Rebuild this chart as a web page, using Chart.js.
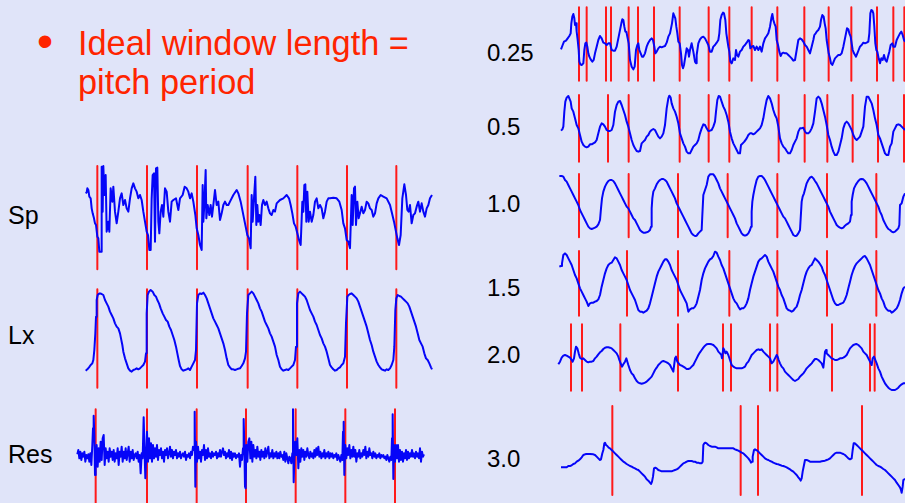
<!DOCTYPE html>
<html>
<head>
<meta charset="utf-8">
<script src="https://cdn.jsdelivr.net/npm/chart.js@4.4.1/dist/chart.umd.min.js"></script>
<style>
  html, body { margin: 0; padding: 0; }
  body { width: 905px; height: 503px; background: #e0e4f9; position: relative; overflow: hidden;
         font-family: "Liberation Sans", Arial, sans-serif; }
  .title { position: absolute; left: 78px; top: 24px; font-size: 34.3px; line-height: 39px; color: #ff2400; white-space: nowrap; }
  .bullet { position: absolute; left: 37px; top: 18px; font-size: 46px; line-height: 46px; color: #ff2400; }
  .lab { position: absolute; color: #000; white-space: nowrap; }
  .lab.left { left: 8px; font-size: 25px; line-height: 25px; }
  .lab.right { left: 487px; font-size: 24px; line-height: 24px; }
  .trace { position: absolute; }
</style>
</head>
<body>
<div class="bullet">•</div>
<div class="title">Ideal window length =<br>pitch period</div>

<script>
// waveform readings: [sample, deflection] -- deflection measured downward from the top of each strip
const spTrace = [[47,115],[50,112],[52,100],[55,105],[58,125],[62,130],[65,160],[68,175],[72,190],[75,205],[78,210],[82,245],[85,250],[88,290],[93,290],[95,35],[98,170],[100,33],[103,120],[107,60],[110,230],[115,200],[118,230],[122,100],[127,140],[130,95],[135,170],[140,205],[145,170],[150,130],[155,115],[160,150],[165,135],[170,160],[175,170],[180,130],[185,100],[190,85],[195,100],[200,110],[205,130],[210,120],[215,135],[220,170],[225,200],[230,230],[234,240],[238,285],[242,285],[245,130],[248,60],[252,55],[255,260],[258,40],[262,38],[265,200],[268,235],[272,170],[276,150],[280,185],[285,100],[290,110],[295,170],[300,200],[305,140],[310,135],[318,130],[325,165],[330,130],[338,120],[344,95],[350,100],[355,110],[360,130],[365,115],[370,140],[376,180],[380,220],[385,240],[390,270],[395,285],[398,90],[400,200],[403,150],[407,45],[409,190],[413,150],[418,180],[422,150],[426,185],[430,150],[435,105],[440,150],[445,140],[450,195],[455,175],[460,150],[465,140],[470,150],[475,150],[480,140],[490,120],[500,105],[505,115],[512,140],[518,170],[522,190],[527,215],[532,240],[537,250],[542,280],[545,120],[548,200],[552,130],[556,65],[559,210],[562,150],[565,200],[568,180],[572,210],[576,150],[580,135],[585,150],[590,140],[595,160],[600,175],[605,180],[610,165],[615,170],[620,145],[630,135],[640,130],[650,120],[657,130],[662,150],[667,175],[672,205],[677,215],[682,235],[687,255],[692,270],[697,140],[700,170],[703,90],[706,88],[709,200],[712,110],[716,200],[720,170],[725,200],[730,180],[735,140],[740,130],[745,160],[750,150],[755,160],[760,190],[765,170],[770,140],[775,130],[780,130],[790,128],[800,130],[808,140],[815,165],[820,205],[825,220],[830,255],[835,260],[840,280],[845,120],[848,210],[852,100],[855,95],[858,210],[862,140],[866,190],[870,175],[875,155],[880,175],[885,165],[890,140],[895,145],[900,160],[905,165],[910,185],[915,175],[920,145],[925,130],[932,120],[940,125],[950,130],[960,150],[966,175],[972,200],[976,220],[982,250],[987,270],[992,240],[997,130],[1003,88],[1008,120],[1012,165],[1016,170],[1020,150],[1025,205],[1030,180],[1035,175],[1040,155],[1045,140],[1050,170],[1055,145],[1060,170],[1065,185],[1070,160],[1075,150],[1080,130],[1086,120]];
const spMarks = [82, 231, 381, 533, 682, 831, 979];

const lxTrace = [[47,272],[52,268],[57,262],[62,255],[67,250],[70,240],[73,210],[76,160],[78,110],[80,60],[83,45],[86,42],[90,40],[95,42],[100,45],[105,60],[110,70],[115,80],[120,95],[125,105],[130,115],[135,130],[140,140],[145,145],[150,160],[153,175],[157,195],[160,215],[165,235],[170,250],[175,265],[180,272],[185,275],[190,270],[195,268],[200,265],[205,268],[210,265],[215,260],[220,255],[225,245],[228,220],[230,100],[233,45],[237,35],[242,30],[248,35],[253,45],[258,50],[262,60],[267,70],[272,85],[278,100],[283,110],[288,120],[293,125],[298,140],[303,150],[308,165],[313,180],[318,200],[322,220],[326,240],[330,258],[335,268],[340,272],[345,270],[350,268],[355,265],[360,270],[365,260],[370,250],[375,240],[378,210],[381,70],[385,45],[390,40],[395,42],[400,38],[405,45],[410,55],[415,70],[420,85],[425,100],[430,115],[435,125],[440,135],[445,145],[450,160],[455,175],[460,190],[465,210],[470,235],[475,255],[480,262],[485,268],[490,268],[495,270],[500,268],[505,266],[510,265],[515,258],[520,250],[525,235],[528,215],[531,100],[535,45],[540,40],[545,35],[550,40],[555,50],[560,60],[565,70],[570,85],[575,95],[580,110],[585,125],[590,135],[595,145],[600,160],[605,170],[610,185],[615,200],[620,225],[625,240],[630,260],[635,268],[640,272],[645,270],[650,268],[655,270],[660,265],[665,260],[670,255],[675,240],[678,200],[681,70],[685,40],[690,35],[695,40],[700,45],[705,50],[710,60],[715,75],[720,90],[725,100],[730,110],[735,125],[740,135],[745,150],[750,165],[755,175],[760,190],[765,200],[770,215],[775,235],[780,255],[785,262],[790,268],[795,272],[800,270],[805,265],[810,262],[815,255],[820,250],[825,230],[828,130],[832,50],[836,45],[840,42],[845,40],[850,45],[855,50],[860,55],[865,65],[870,80],[875,95],[880,110],[885,125],[890,140],[895,160],[900,180],[905,195],[910,215],[915,230],[920,245],[925,255],[930,262],[935,268],[940,270],[945,272],[950,268],[955,270],[960,265],[965,255],[970,240],[973,200],[976,90],[979,55],[983,45],[988,48],[993,50],[998,55],[1003,60],[1008,65],[1013,70],[1018,80],[1023,95],[1028,110],[1033,125],[1038,140],[1043,160],[1048,180],[1053,190],[1058,200],[1063,220],[1068,235],[1073,240],[1078,250],[1083,262],[1086,268]];
const lxMarks = [82, 231, 381, 533, 682, 831, 979];

const resTrace = [[22,178],[25,165],[28,190],[31,170],[34,195],[37,175],[40,185],[43,170],[46,200],[49,180],[52,190],[55,178],[58,200],[61,175],[64,210],[67,150],[69,100],[71,62],[73,120],[75,240],[77,200],[80,150],[83,215],[86,160],[89,200],[92,140],[95,195],[98,130],[101,120],[104,210],[107,160],[110,190],[113,170],[116,200],[119,160],[122,185],[125,170],[128,195],[131,165],[134,200],[137,175],[140,190],[143,160],[146,210],[149,170],[152,185],[155,155],[158,200],[161,170],[164,190],[167,160],[170,195],[173,175],[176,155],[179,200],[182,170],[185,190],[188,165],[191,195],[194,180],[197,175],[200,190],[203,170],[206,200],[209,180],[212,235],[215,175],[218,190],[221,67],[224,180],[226,250],[228,200],[231,110],[234,200],[237,130],[240,190],[243,145],[246,200],[249,150],[252,190],[255,160],[258,185],[261,150],[264,195],[267,165],[270,180],[273,160],[276,190],[279,170],[282,200],[285,165],[288,180],[291,160],[294,190],[297,175],[300,155],[303,185],[306,165],[309,190],[312,170],[315,180],[318,165],[321,190],[324,175],[327,185],[330,170],[333,190],[336,180],[339,175],[342,185],[345,170],[348,195],[351,180],[354,185],[357,175],[360,190],[363,170],[366,180],[369,155],[372,165],[374,50],[376,275],[378,140],[381,200],[384,155],[387,190],[390,170],[393,200],[396,165],[399,180],[402,150],[405,195],[408,165],[411,190],[414,160],[417,185],[420,175],[423,190],[426,170],[429,185],[432,175],[435,180],[438,170],[441,190],[444,175],[447,185],[450,165],[453,185],[456,170],[459,160],[462,180],[465,170],[468,190],[471,175],[474,185],[477,165],[480,190],[483,170],[486,195],[489,175],[492,185],[495,175],[498,190],[501,180],[504,185],[507,175],[510,215],[513,180],[516,195],[519,160],[521,72],[523,150],[525,275],[527,280],[529,150],[532,200],[535,140],[538,130],[541,190],[544,140],[547,200],[550,150],[553,185],[556,165],[559,190],[562,155],[565,185],[568,170],[571,195],[574,165],[577,185],[580,170],[583,190],[586,160],[589,185],[592,170],[595,155],[598,190],[601,175],[604,185],[607,165],[610,190],[613,175],[616,185],[619,170],[622,190],[625,175],[628,190],[631,170],[634,185],[637,180],[640,195],[643,170],[646,200],[649,175],[652,190],[655,205],[658,185],[661,190],[664,205],[667,175],[669,43],[671,262],[673,195],[676,140],[679,180],[682,130],[685,220],[688,165],[691,200],[694,160],[697,185],[700,165],[703,195],[706,170],[709,185],[712,160],[715,180],[718,190],[721,170],[724,185],[727,175],[730,190],[733,165],[736,185],[739,160],[742,180],[745,155],[748,185],[751,170],[754,190],[757,175],[760,185],[763,165],[766,190],[769,175],[772,185],[775,170],[778,190],[781,175],[784,185],[787,175],[790,190],[793,180],[796,185],[799,175],[802,195],[805,180],[808,190],[811,200],[814,180],[817,195],[819,110],[821,80],[823,240],[826,150],[829,190],[832,160],[835,180],[838,150],[841,190],[844,165],[847,185],[850,155],[853,185],[856,165],[859,200],[862,175],[865,185],[868,165],[871,190],[874,175],[877,185],[880,165],[883,180],[886,155],[889,190],[892,170],[895,185],[898,160],[901,180],[904,175],[907,190],[910,170],[913,185],[916,175],[919,190],[922,180],[925,185],[928,175],[931,190],[934,180],[937,185],[940,180],[943,190],[946,185],[949,195],[952,180],[955,190],[958,200],[961,185],[964,195],[966,130],[968,58],[970,252],[972,150],[975,200],[978,150],[981,190],[984,150],[987,200],[990,165],[993,195],[996,170],[999,200],[1002,175],[1005,190],[1008,165],[1011,195],[1014,170],[1017,190],[1020,175],[1023,185],[1026,165],[1029,185],[1032,175],[1035,190],[1038,170],[1041,185],[1044,175],[1047,190],[1050,160],[1053,200],[1056,170],[1059,185],[1062,178]];
const resMarks = [77, 231, 380, 528, 677, 826, 975];

const w025Trace = [[33,148],[38,135],[42,125],[48,122],[53,115],[58,108],[62,100],[64,70],[67,50],[70,42],[73,55],[75,75],[78,70],[80,95],[83,120],[86,150],[88,185],[91,193],[95,195],[100,190],[103,150],[106,130],[109,128],[112,140],[115,160],[118,170],[122,178],[127,185],[131,180],[135,160],[140,140],[145,120],[150,108],[155,115],[160,128],[165,130],[170,135],[175,130],[180,130],[185,150],[190,152],[195,152],[200,140],[205,115],[208,100],[211,85],[214,70],[217,58],[220,60],[223,80],[226,95],[229,95],[233,115],[236,130],[240,180],[245,200],[250,208],[254,200],[258,150],[262,135],[265,130],[268,150],[272,160],[276,170],[280,170],[285,160],[290,140],[295,128],[300,120],[305,115],[309,120],[313,140],[316,160],[320,155],[325,145],[330,140],[335,142],[340,140],[345,138],[350,128],[355,110],[360,100],[363,85],[366,70],[370,40],[373,48],[376,55],[379,80],[382,100],[385,125],[389,130],[393,160],[396,195],[399,205],[402,195],[406,170],[410,145],[414,150],[417,170],[420,150],[425,130],[430,155],[435,185],[438,190],[440,165],[445,130],[450,118],[455,112],[460,110],[465,115],[470,125],[475,135],[480,155],[485,155],[490,140],[495,135],[500,128],[505,120],[508,100],[511,60],[515,45],[519,38],[522,40],[526,60],[529,100],[532,120],[535,140],[538,155],[541,185],[545,190],[550,175],[555,180],[558,150],[561,165],[565,170],[570,155],[575,150],[580,140],[585,135],[590,128],[595,120],[598,122],[601,145],[605,140],[610,138],[615,150],[620,140],[625,150],[630,140],[635,155],[640,130],[645,115],[650,108],[655,100],[660,80],[664,55],[667,42],[670,60],[673,70],[677,80],[680,120],[684,135],[688,155],[692,168],[696,160],[700,158],[705,160],[710,160],[715,165],[720,170],[725,175],[730,182],[735,180],[740,150],[745,120],[750,115],[755,118],[760,125],[765,135],[770,140],[775,150],[780,160],[785,140],[790,120],[793,105],[797,100],[800,95],[805,90],[810,80],[813,60],[817,45],[821,50],[824,70],[827,85],[830,120],[833,140],[836,160],[840,175],[843,190],[847,195],[851,185],[855,175],[860,170],[865,165],[870,165],[875,160],[880,140],[885,115],[888,100],[891,85],[895,88],[898,100],[902,110],[905,130],[908,150],[912,160],[915,165],[918,170],[922,160],[926,150],[930,140],[935,135],[940,128],[945,130],[950,128],[955,125],[958,100],[961,40],[964,30],[967,32],[970,40],[973,80],[976,130],[979,150],[982,155],[986,175],[990,190],[994,175],[998,180],[1002,165],[1006,180],[1010,185],[1014,170],[1018,155],[1022,135],[1027,130],[1030,140],[1035,140],[1040,120],[1045,110],[1050,100],[1054,95],[1058,105],[1062,120],[1065,125]];
const w025Marks = [87, 110, 168, 183, 236, 264, 312, 389, 476, 538, 605, 682, 763, 836, 904, 981, 1030, 1063];

const w05Trace = [[33,137],[37,133],[40,125],[43,80],[46,50],[50,38],[55,33],[58,40],[62,50],[65,70],[70,80],[75,100],[80,120],[85,130],[90,150],[95,170],[100,180],[105,185],[110,187],[115,185],[120,178],[125,178],[130,175],[135,172],[140,165],[145,145],[150,125],[155,115],[160,118],[165,125],[170,135],[175,138],[180,138],[185,135],[190,120],[195,80],[200,60],[205,50],[210,48],[215,60],[220,75],[225,90],[230,110],[235,125],[240,145],[245,165],[250,180],[255,190],[260,198],[265,200],[270,198],[275,175],[280,170],[285,165],[290,155],[295,150],[300,140],[305,135],[310,132],[315,135],[320,145],[325,155],[330,160],[335,155],[340,145],[345,120],[350,70],[355,40],[358,32],[362,38],[365,55],[370,70],[375,80],[380,95],[385,115],[390,145],[395,160],[400,175],[405,185],[410,200],[415,205],[420,205],[425,195],[430,185],[435,180],[440,175],[445,165],[450,145],[455,130],[460,118],[465,120],[470,130],[475,138],[480,137],[485,135],[490,125],[495,110],[498,80],[502,45],[506,33],[510,35],[515,50],[520,65],[525,75],[530,90],[535,110],[540,140],[545,160],[550,175],[555,185],[560,195],[565,205],[570,205],[573,180],[578,175],[583,170],[590,160],[595,150],[600,145],[605,145],[610,148],[615,145],[620,140],[625,135],[630,130],[635,120],[640,100],[645,70],[650,45],[655,33],[660,40],[665,55],[670,75],[675,90],[680,100],[685,125],[690,160],[695,175],[700,185],[705,190],[710,198],[715,205],[720,205],[725,195],[730,180],[735,170],[740,160],[745,140],[750,130],[755,130],[760,128],[765,140],[770,145],[775,145],[780,140],[785,130],[790,115],[795,80],[800,40],[805,35],[810,40],[815,55],[820,75],[825,95],[830,120],[835,150],[840,165],[845,185],[850,200],[855,210],[860,210],[865,200],[870,180],[875,160],[880,130],[885,115],[890,110],[895,115],[900,125],[905,135],[910,150],[915,160],[920,165],[925,160],[930,155],[935,140],[940,125],[945,65],[950,35],[955,35],[960,45],[965,55],[970,75],[975,100],[980,120],[985,150],[990,160],[995,175],[1000,190],[1005,205],[1010,210],[1015,210],[1020,185],[1025,175],[1030,140],[1035,130],[1040,120],[1045,118],[1050,120],[1055,125],[1060,130],[1065,135]];
const w05Marks = [87, 174, 236, 389, 476, 538, 686, 764, 832, 908, 984, 1062];

const w10Trace = [[28,33],[35,33],[40,35],[45,45],[50,50],[55,60],[60,70],[65,80],[70,90],[75,100],[80,110],[85,120],[90,135],[95,145],[100,155],[105,165],[110,175],[115,185],[120,190],[125,192],[130,190],[135,188],[140,185],[145,178],[150,165],[153,130],[156,100],[160,80],[165,65],[170,55],[175,48],[180,45],[185,45],[190,48],[195,55],[200,65],[205,75],[210,85],[215,95],[220,105],[225,115],[230,125],[235,130],[240,140],[245,150],[250,160],[255,165],[260,175],[265,185],[270,195],[275,200],[280,203],[285,203],[290,202],[295,200],[300,195],[303,185],[305,130],[307,100],[310,80],[315,70],[320,58],[325,50],[330,45],[335,42],[340,42],[345,45],[350,50],[355,60],[360,70],[365,80],[370,90],[375,100],[380,115],[385,125],[390,135],[395,145],[400,155],[405,165],[410,175],[415,185],[420,195],[425,205],[430,210],[435,213],[440,212],[445,205],[450,200],[455,195],[457,150],[460,90],[465,75],[470,60],[475,35],[480,28],[485,28],[490,28],[495,35],[500,45],[505,55],[510,70],[515,80],[520,90],[525,100],[530,110],[535,120],[540,130],[545,140],[550,150],[555,160],[560,175],[565,185],[570,195],[575,205],[580,210],[585,212],[590,210],[595,205],[600,195],[603,185],[605,140],[607,110],[610,90],[615,65],[620,45],[625,35],[630,33],[635,33],[640,38],[645,45],[650,55],[655,65],[660,75],[665,85],[670,95],[675,105],[680,115],[685,125],[690,135],[695,145],[700,155],[705,160],[710,170],[715,180],[720,190],[725,200],[730,210],[735,213],[740,212],[745,205],[750,195],[752,160],[755,110],[758,95],[762,85],[766,70],[770,55],[775,45],[780,38],[785,35],[790,40],[795,48],[800,55],[805,65],[810,75],[815,85],[820,95],[825,105],[830,115],[835,125],[840,140],[845,150],[850,160],[855,170],[860,180],[865,185],[870,188],[875,190],[880,188],[885,182],[890,178],[895,175],[900,170],[903,150],[905,110],[908,90],[912,70],[918,58],[925,48],[930,43],[935,42],[940,43],[945,48],[950,55],[955,65],[960,75],[965,85],[970,95],[975,105],[980,115],[985,125],[990,140],[995,150],[1000,165],[1005,175],[1010,185],[1015,192],[1020,195],[1025,200],[1030,202],[1035,200],[1040,195],[1045,190],[1048,180],[1050,120],[1055,115],[1060,95],[1065,85]];
const w10Marks = [87, 236, 384, 533, 682, 831, 979];

const w15Trace = [[28,80],[33,78],[36,70],[40,45],[45,40],[50,45],[55,55],[60,65],[65,75],[70,90],[75,105],[80,115],[85,130],[90,145],[95,155],[100,165],[105,175],[110,185],[115,198],[120,190],[125,188],[130,188],[135,185],[140,183],[145,178],[150,165],[155,140],[160,120],[165,100],[170,85],[175,75],[180,70],[185,68],[190,60],[195,52],[200,55],[205,65],[210,75],[215,90],[220,100],[225,110],[230,120],[235,135],[240,150],[245,160],[250,170],[255,180],[260,195],[265,210],[270,215],[275,215],[280,218],[285,215],[290,212],[295,205],[300,190],[305,170],[310,150],[315,130],[320,110],[325,95],[330,85],[335,75],[340,65],[345,58],[350,58],[355,65],[360,75],[365,90],[370,100],[375,110],[380,120],[385,135],[390,150],[395,160],[400,170],[405,180],[410,190],[415,215],[420,208],[425,205],[430,205],[435,200],[440,190],[445,170],[450,150],[455,120],[460,100],[465,85],[470,75],[475,65],[480,58],[485,55],[490,48],[495,35],[500,38],[505,50],[510,60],[515,75],[520,85],[525,100],[530,115],[535,130],[540,145],[545,160],[550,175],[555,185],[560,190],[565,200],[570,208],[575,205],[580,205],[585,200],[590,190],[595,175],[600,150],[605,130],[610,110],[615,95],[620,80],[625,65],[630,58],[635,55],[640,50],[645,45],[650,50],[655,65],[660,75],[665,85],[670,95],[675,110],[680,125],[685,140],[690,150],[695,165],[700,175],[705,190],[710,205],[715,210],[720,212],[725,215],[730,212],[735,205],[740,200],[745,185],[750,165],[755,150],[760,130],[765,110],[770,95],[775,85],[780,78],[785,75],[790,65],[795,55],[800,60],[805,65],[810,72],[815,80],[820,95],[825,105],[830,120],[835,135],[840,150],[845,165],[850,180],[855,190],[860,195],[865,195],[870,192],[875,190],[880,188],[885,178],[890,165],[895,145],[900,125],[905,105],[910,90],[915,78],[920,70],[925,65],[930,60],[935,55],[940,50],[945,48],[950,55],[955,65],[960,75],[965,90],[970,105],[975,120],[980,135],[985,150],[990,160],[995,175],[1000,185],[1005,200],[1010,208],[1015,212],[1020,212],[1025,218],[1030,215],[1035,210],[1040,205],[1045,195],[1050,180],[1055,160],[1060,145],[1065,140]];
const w15Marks = [87, 231, 384, 538, 682, 831, 979];

const w20Trace = [[25,148],[30,140],[35,128],[40,122],[45,120],[50,122],[55,125],[60,128],[65,135],[68,140],[72,130],[75,110],[78,95],[82,100],[86,115],[90,128],[95,132],[100,130],[105,135],[110,140],[115,142],[120,140],[125,140],[130,138],[135,130],[140,125],[145,118],[150,112],[155,108],[160,102],[165,98],[170,97],[175,97],[180,98],[185,100],[190,105],[195,110],[200,115],[205,125],[208,135],[212,145],[216,155],[220,148],[225,140],[229,130],[232,140],[235,150],[240,165],[245,175],[250,180],[255,190],[260,198],[265,203],[270,205],[275,206],[280,205],[285,203],[290,200],[295,195],[300,190],[305,185],[310,175],[315,165],[320,158],[325,150],[330,145],[335,140],[340,138],[345,140],[350,142],[355,145],[360,150],[365,160],[370,170],[372,170],[375,130],[378,125],[382,140],[386,145],[390,150],[395,152],[400,155],[405,158],[410,162],[415,162],[420,160],[425,155],[430,150],[435,140],[440,130],[445,120],[450,112],[455,105],[460,98],[465,92],[470,88],[475,87],[480,87],[485,88],[490,90],[495,95],[500,100],[505,110],[510,115],[514,120],[516,130],[520,100],[523,105],[526,115],[530,110],[535,120],[540,135],[545,150],[550,155],[555,158],[560,160],[565,160],[570,160],[575,160],[580,158],[585,155],[590,145],[595,140],[600,130],[605,120],[610,115],[615,110],[620,105],[625,103],[630,105],[635,103],[640,110],[645,115],[650,120],[655,125],[660,130],[665,145],[670,140],[675,130],[680,120],[683,125],[686,135],[690,145],[695,155],[700,160],[705,170],[710,175],[715,180],[720,185],[725,190],[730,195],[735,198],[740,195],[745,192],[750,185],[755,180],[760,175],[765,168],[770,160],[775,155],[780,150],[785,145],[790,138],[795,132],[800,132],[805,135],[810,140],[815,145],[820,158],[822,140],[825,110],[828,105],[830,115],[835,120],[840,125],[845,130],[850,132],[855,135],[860,135],[865,133],[870,130],[875,130],[880,128],[885,125],[890,120],[895,110],[900,100],[905,95],[910,90],[915,88],[920,87],[925,90],[930,95],[935,100],[940,110],[945,115],[950,120],[955,130],[960,140],[965,150],[968,130],[972,125],[976,135],[980,145],[985,160],[990,170],[995,185],[1000,195],[1005,205],[1010,212],[1015,218],[1020,222],[1025,225],[1030,225],[1035,225],[1040,222],[1045,218],[1050,212],[1055,208],[1060,205],[1065,205]];
const w20Marks = [63, 96, 211, 384, 519, 543, 660, 682, 846, 960, 974];

const w30Trace = [[33,202],[40,202],[50,202],[55,198],[60,198],[65,196],[70,192],[75,190],[80,185],[85,182],[90,178],[95,172],[100,165],[105,163],[110,162],[120,162],[130,163],[135,165],[140,170],[145,175],[150,180],[153,178],[157,160],[160,150],[163,130],[165,128],[168,135],[172,138],[176,143],[180,145],[185,150],[190,155],[195,160],[200,165],[205,170],[210,175],[215,180],[220,185],[225,188],[230,192],[235,195],[240,198],[245,200],[250,203],[255,205],[260,208],[265,210],[270,215],[275,220],[280,225],[285,230],[290,238],[295,242],[300,248],[303,252],[306,245],[309,230],[312,205],[316,203],[320,205],[325,210],[330,212],[335,214],[345,214],[355,214],[365,214],[370,212],[375,210],[380,208],[385,205],[390,200],[395,195],[400,190],[405,188],[410,185],[415,183],[425,183],[430,185],[435,185],[440,188],[445,188],[450,190],[455,190],[458,185],[460,135],[463,130],[466,128],[470,130],[475,135],[480,138],[485,140],[495,140],[500,142],[505,145],[520,145],[550,145],[555,148],[560,150],[565,152],[570,155],[575,158],[580,160],[585,165],[590,170],[595,175],[600,182],[603,188],[606,185],[608,170],[610,160],[612,150],[615,148],[618,150],[622,152],[625,155],[630,160],[635,165],[640,170],[645,175],[650,178],[655,180],[660,183],[665,185],[670,188],[675,190],[680,192],[685,193],[690,195],[695,197],[700,198],[705,200],[710,202],[715,205],[720,208],[725,212],[730,215],[735,220],[740,225],[745,232],[750,238],[752,242],[755,235],[758,215],[762,195],[765,180],[770,180],[775,182],[780,185],[810,185],[815,184],[820,183],[825,182],[830,180],[835,178],[840,175],[845,170],[850,165],[855,160],[860,158],[870,158],[875,160],[880,162],[885,165],[890,170],[895,175],[900,178],[905,175],[908,150],[911,130],[915,130],[920,135],[925,140],[930,145],[935,150],[940,155],[945,160],[950,165],[955,170],[960,175],[965,180],[970,185],[975,190],[980,195],[985,198],[990,200],[995,203],[1000,207],[1005,210],[1010,215],[1015,220],[1020,225],[1025,230],[1030,235],[1035,240],[1040,248],[1045,255],[1050,262],[1053,270],[1055,278],[1058,260],[1060,240],[1063,238],[1065,238]];
const w30Marks = [187, 572, 624, 936];

const leftLabels = ['Sp', 'Lx', 'Res'];
const rightLabels = ['0.25', '0.5', '1.0', '1.5', '2.0', '3.0'];

const colors = {
    trace: '#0505f8',
    mark: '#ff1a1a',
    text: '#000000'
};

// strip placement on the slide (left, top), sample span and depth span, marker extent
const strips = [
    { trace: spTrace,   marks: spMarks,   left: 70,  top: 155, span: 1110, depth: 360, markFrom: 33, markTo: 343 },
    { trace: lxTrace,   marks: lxMarks,   left: 70,  top: 280, span: 1110, depth: 330, markFrom: 28, markTo: 323 },
    { trace: resTrace,  marks: resMarks,  left: 70,  top: 395, span: 1110, depth: 324, markFrom: 43, markTo: 340 },
    { trace: w025Trace, marks: w025Marks, left: 550, top: 0,   span: 1065, depth: 270, markFrom: 22, markTo: 242 },
    { trace: w05Trace,  marks: w05Marks,  left: 550, top: 85,  span: 1065, depth: 240, markFrom: 30, markTo: 230 },
    { trace: w10Trace,  marks: w10Marks,  left: 550, top: 165, span: 1065, depth: 240, markFrom: 27, markTo: 217 },
    { trace: w15Trace,  marks: w15Marks,  left: 550, top: 240, span: 1065, depth: 240, markFrom: 33, markTo: 227 },
    { trace: w20Trace,  marks: w20Marks,  left: 550, top: 315, span: 1065, depth: 255, markFrom: 28, markTo: 227 },
    { trace: w30Trace,  marks: w30Marks,  left: 550, top: 400, span: 1065, depth: 309, markFrom: 18, markTo: 285 }
];

const leftTops = [203, 323, 442];
const rightTops = [41, 115, 192, 276, 343, 447];

function addLabels() {
    leftLabels.forEach((txt, i) => {
        const el = document.createElement('div');
        el.className = 'lab left';
        el.style.top = leftTops[i] + 'px';
        el.textContent = txt;
        document.body.appendChild(el);
    });
    rightLabels.forEach((txt, i) => {
        const el = document.createElement('div');
        el.className = 'lab right';
        el.style.top = rightTops[i] + 'px';
        el.textContent = txt;
        document.body.appendChild(el);
    });
}

function drawStrip(s) {
    const box = document.createElement('div');
    box.className = 'trace';
    box.style.left = s.left + 'px';
    box.style.top = s.top + 'px';
    box.style.width = (s.span / 3) + 'px';
    box.style.height = (s.depth / 3) + 'px';
    const canvas = document.createElement('canvas');
    box.appendChild(canvas);
    document.body.appendChild(box);

    // first dataset is painted last, so the waveform sits over the markers
    const datasets = [{
        data: s.trace.map(([x, y]) => ({ x, y })),
        borderColor: colors.trace,
        borderWidth: 2
    }];
    s.marks.forEach(t => {
        datasets.push({
            data: [{ x: t, y: s.markFrom }, { x: t, y: s.markTo }],
            borderColor: colors.mark,
            borderWidth: 2
        });
    });

    new Chart(canvas, {
        type: 'line',
        data: { datasets },
        options: {
            responsive: true,
            maintainAspectRatio: false,
            animation: false,
            events: [],
            layout: { padding: 0 },
            plugins: { legend: { display: false }, tooltip: { enabled: false } },
            elements: {
                point: { radius: 0 },
                line: { tension: 0, borderJoinStyle: 'round', fill: false }
            },
            scales: {
                x: { type: 'linear', display: false, min: 0, max: s.span },
                y: { type: 'linear', display: false, min: 0, max: s.depth, reverse: true }
            }
        }
    });
}

addLabels();
strips.forEach(drawStrip);
</script>
</body>
</html>
